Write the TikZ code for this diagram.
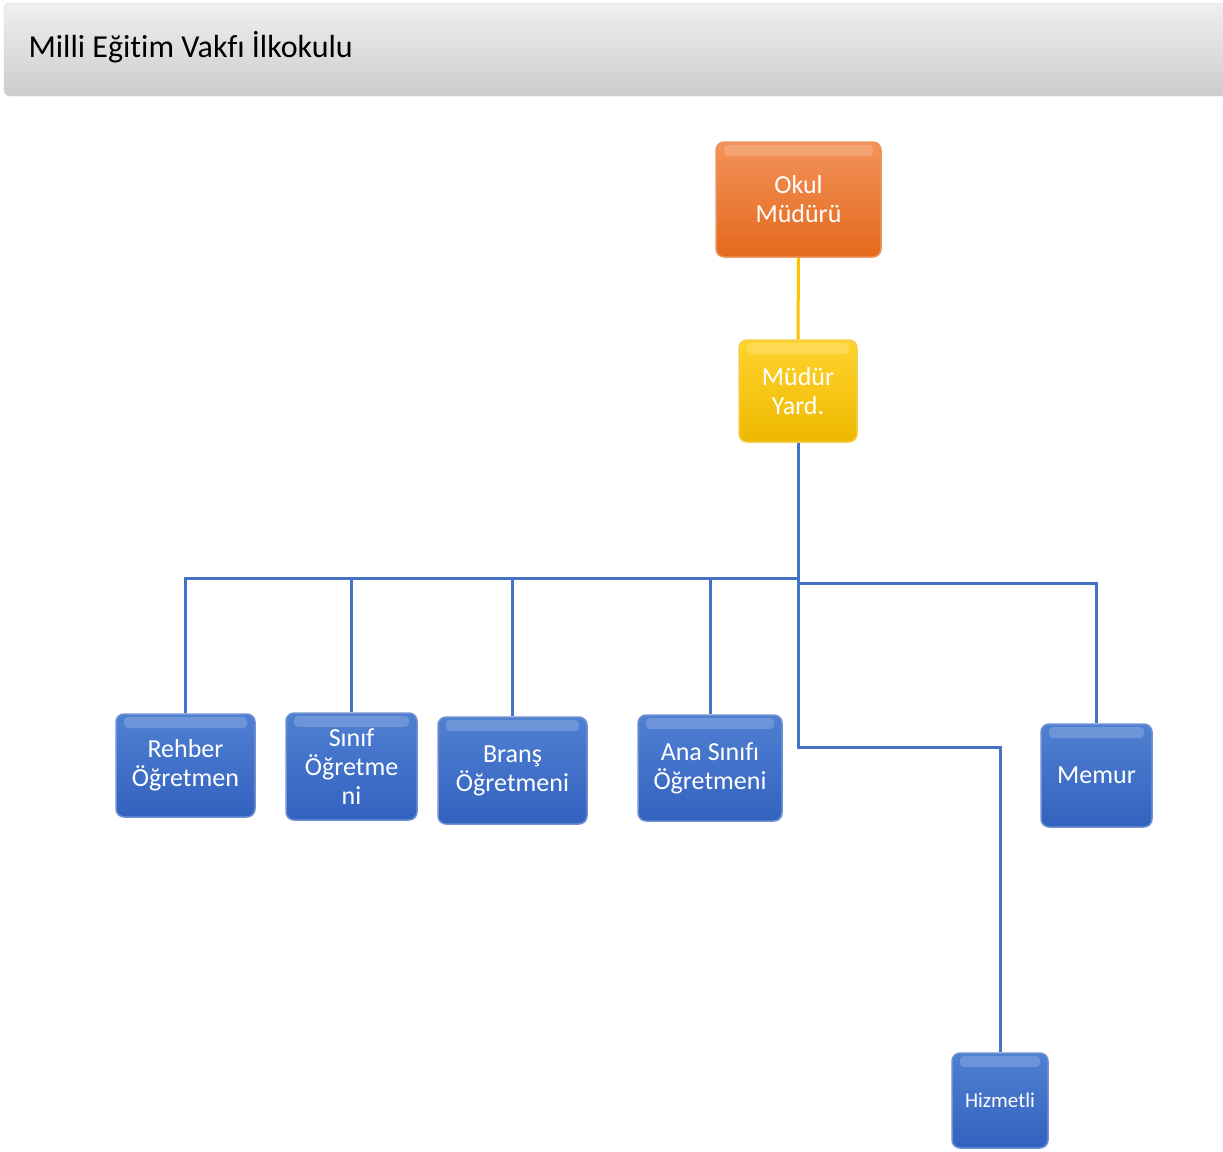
\documentclass[tikz,border=0pt]{standalone}
\usepackage{fontspec}
\setmainfont{Carlito}[Ligatures=NoCommon]

\definecolor{orgtop}{HTML}{F4925A}
\definecolor{orgbot}{HTML}{E3691C}
\definecolor{yeltop}{HTML}{FFD42E}
\definecolor{yelbot}{HTML}{EEB800}
\definecolor{blutop}{HTML}{5080D2}
\definecolor{blubot}{HTML}{3262BE}
\definecolor{linkblue}{HTML}{4472C4}
\definecolor{linkyel}{HTML}{FFC000}

\tikzset{
  unit/.style={rounded corners=8pt, draw=#1bot!70!white, line width=1.5pt,
    top color=#1top, bottom color=#1bot, text=white, align=center, inner sep=0pt,
    font=\fontsize{26}{29}\selectfont,
    path picture={\fill[white,opacity=0.18,rounded corners=4pt]
      ([xshift=8pt,yshift=-3pt]path picture bounding box.north west) rectangle
      ([xshift=-8pt,yshift=-14pt]path picture bounding box.north east);}},
  link/.style={draw=linkblue, line width=3pt},
}

\begin{document}
\begin{tikzpicture}[x=1pt,y=-1pt]
\useasboundingbox (0,0) rectangle (1223,1151);

% title bar
\shade[top color=gray!12, bottom color=gray!40, draw=gray!35, rounded corners=6pt]
  (4,3) rectangle (1240,96);
\node[anchor=west, font=\fontsize{32}{36}\selectfont] (title) at (25,47) {Milli Eğitim Vakfı İlkokulu};

% top
\node[unit=org, minimum width=165pt, minimum height=115pt] (okul) at (798.5,199.5) {Okul\\Müdürü};
\node[unit=yel, minimum width=118pt, minimum height=102pt] (yard) at (798,391) {Müdür\\Yard.};

% staff
\node[unit=blu, minimum width=139pt, minimum height=103pt] (rehber) at (185.5,765.5) {Rehber\\Öğretmen};
\node[unit=blu, minimum width=131pt, minimum height=107pt] (sinif) at (351.5,766.5) {Sınıf\\Öğretme\\ni};
\node[unit=blu, minimum width=149pt, minimum height=107pt] (brans) at (512.5,770.5) {Branş\\Öğretmeni};
\node[unit=blu, minimum width=144pt, minimum height=106pt] (ana) at (710,768) {Ana Sınıfı\\Öğretmeni};
\node[unit=blu, minimum width=111pt, minimum height=103pt] (memur) at (1096.5,775.5) {Memur};
\node[unit=blu, minimum width=96pt, minimum height=95pt, font=\fontsize{21}{25}\selectfont] (hizmetli) at (1000,1100.5) {Hizmetli};

% connectors
\coordinate (bar) at (798,578);
\coordinate (mbar) at (798,583);
\coordinate (jog) at (798,747);
\draw[draw=linkyel, line width=3pt] (okul.south) -- (yard.north);
\draw[link] (yard.south) -- (bar) -| (rehber.north);
\draw[link] (bar) -| (sinif.north);
\draw[link] (bar) -| (brans.north);
\draw[link] (bar) -| (ana.north);
\draw[link] (bar) -- (mbar) -| (memur.north);
\draw[link] (mbar) -- (jog) -| (hizmetli.north);
\end{tikzpicture}
\end{document}
